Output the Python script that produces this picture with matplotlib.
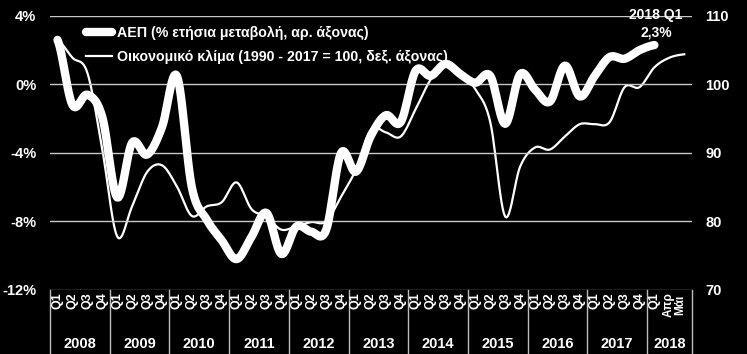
import numpy as np
import matplotlib
matplotlib.use('Agg')
import matplotlib.pyplot as plt

plt.rcParams['font.family'] = ['Liberation Sans', 'DejaVu Sans']
plt.rcParams['font.weight'] = 'bold'

years = ['2008', '2009', '2010', '2011', '2012', '2013', '2014', '2015', '2016', '2017', '2018']
quarters = ['Q1', 'Q2', 'Q3', 'Q4']

# GDP, % y/y, 2008Q1 .. 2018Q1
gdp = [2.6, -1.2, -0.6, -1.9, -6.6, -3.4, -4.1, -2.5, 0.5, -6.0, -7.9, -9.1,
       -10.2, -8.9, -7.5, -9.9, -8.3, -8.6, -8.5, -4.0, -5.1, -3.0, -1.8, -2.2,
       0.8, 0.5, 1.2, 0.6, 0.1, 0.5, -2.3, 0.6, -0.3, -1.0, 1.1, -0.7,
       0.5, 1.6, 1.5, 2.0, 2.3]

# economic sentiment, 2008Q1 .. 2018Q1, then Apr, May 2018
climate = [106.5, 103.9, 101.7, 90.5, 77.8, 82.2, 87.2, 88.2, 85.1, 80.8, 82.2, 82.8,
           85.7, 81.8, 80.7, 78.8, 79.3, 79.9, 80.0, 83.6, 87.6, 93.4, 93.0, 92.4,
           96.4, 100.7, 103.2, 101.8, 99.3, 94.5, 80.7, 88.0, 90.8, 90.5, 92.4, 94.2,
           94.2, 94.5, 99.6, 99.6, 102.5, 103.9, 104.4]

n_cat = 43


def smooth(y, k=12):
    # catmull-rom curve through the points, like excel's smoothed line
    y = np.asarray(y, float)
    x = np.arange(len(y), dtype=float)
    p = np.concatenate([[y[0]], y, [y[-1]]])
    xs, ys = [], []
    t = np.linspace(0, 1, k, endpoint=False)
    for i in range(len(y) - 1):
        p0, p1, p2, p3 = p[i], p[i + 1], p[i + 2], p[i + 3]
        seg = 0.5 * (2 * p1 + (-p0 + p2) * t + (2 * p0 - 5 * p1 + 4 * p2 - p3) * t ** 2
                     + (-p0 + 3 * p1 - 3 * p2 + p3) * t ** 3)
        xs.append(x[i] + t)
        ys.append(seg)
    xs.append([x[-1]])
    ys.append([y[-1]])
    return np.concatenate(xs), np.concatenate(ys)


fig = plt.figure(figsize=(7.47, 3.54), dpi=100, facecolor='black')
ax = fig.add_axes([0.067, 0.181, 0.859, 0.774])
ax.set_facecolor('black')
ax2 = ax.twinx()

ax.set_xlim(-0.5, n_cat - 0.5)
ax.set_ylim(-12, 4)
ax2.set_ylim(70, 110)
ax.set_yticks([-12, -8, -4, 0, 4])
ax.set_yticklabels(['-12%', '-8%', '-4%', '0%', '4%'])
ax2.set_yticks([70, 80, 90, 100, 110])
for a in (ax, ax2):
    for s in a.spines.values():
        s.set_visible(False)
    a.tick_params(length=0, colors='white', labelsize=10.5)
ax.tick_params(axis='y', pad=10)
ax2.tick_params(axis='y', pad=10)
ax.set_xticks([])

for v in [-8, -4, 0, 4]:
    ax.axhline(v, color='#c8c8c8', lw=1.0, zorder=0)
ax.axhline(-12, color='#9a9a9a', lw=1.0, zorder=0)

xg, yg = smooth(gdp)
xc, yc = smooth(climate)
l1, = ax.plot(xg, yg, color='white', lw=6, solid_capstyle='round', zorder=3)
ax.set_zorder(ax2.get_zorder() + 1)
ax.patch.set_visible(False)
ax2.set_facecolor('black')
l2, = ax2.plot(xc, yc, color='white', lw=1.6, zorder=2)

leg = ax.legend([l1, l2], ['ΑΕΠ (% ετήσια μεταβολή, αρ. άξονας)',
                           'Οικονομικό κλίμα (1990 - 2017 = 100, δεξ. άξονας)'],
                loc='upper left', bbox_to_anchor=(0.045, 0.99), frameon=False,
                borderpad=0, handlelength=1.8, handletextpad=0.4, labelspacing=0.7,
                prop={'size': 10.2, 'weight': 'bold'})
for t in leg.get_texts():
    t.set_color('white')

ax.text(40.1, 3.55, '2018 Q1\n2,3%', color='white', fontsize=10, ha='center',
        va='center', linespacing=1.25)

# category axis
trans = ax.get_xaxis_transform()
qlabels = []
for y in years[:-1]:
    qlabels += quarters
for i, q in enumerate(qlabels):
    ax.text(i, -0.008, q, transform=trans, rotation=90, ha='center', va='top',
            color='white', fontsize=9)
ax.text(40, -0.008, 'Q1', transform=trans, rotation=90, ha='center', va='top',
        color='white', fontsize=9)
ax.text(41.35, -0.008, 'Απρ\nΜάι', transform=trans, rotation=90, ha='center', va='top',
        color='white', fontsize=8.5, linespacing=0.9)
for k, y in enumerate(years):
    start = 4 * k
    end = start + 4 if k < len(years) - 1 else n_cat
    ax.text((start + end - 1) / 2, -0.197, y, transform=trans, ha='center', va='center',
            color='white', fontsize=10.5)
    ax.plot([start - 0.5, start - 0.5], [0, -0.24], transform=trans, color='#bdbdbd',
            lw=1.0, clip_on=False)
ax.plot([n_cat - 0.5, n_cat - 0.5], [0, -0.24], transform=trans, color='#bdbdbd',
        lw=1.0, clip_on=False)

fig.savefig('out.png', dpi=100, facecolor='black')
